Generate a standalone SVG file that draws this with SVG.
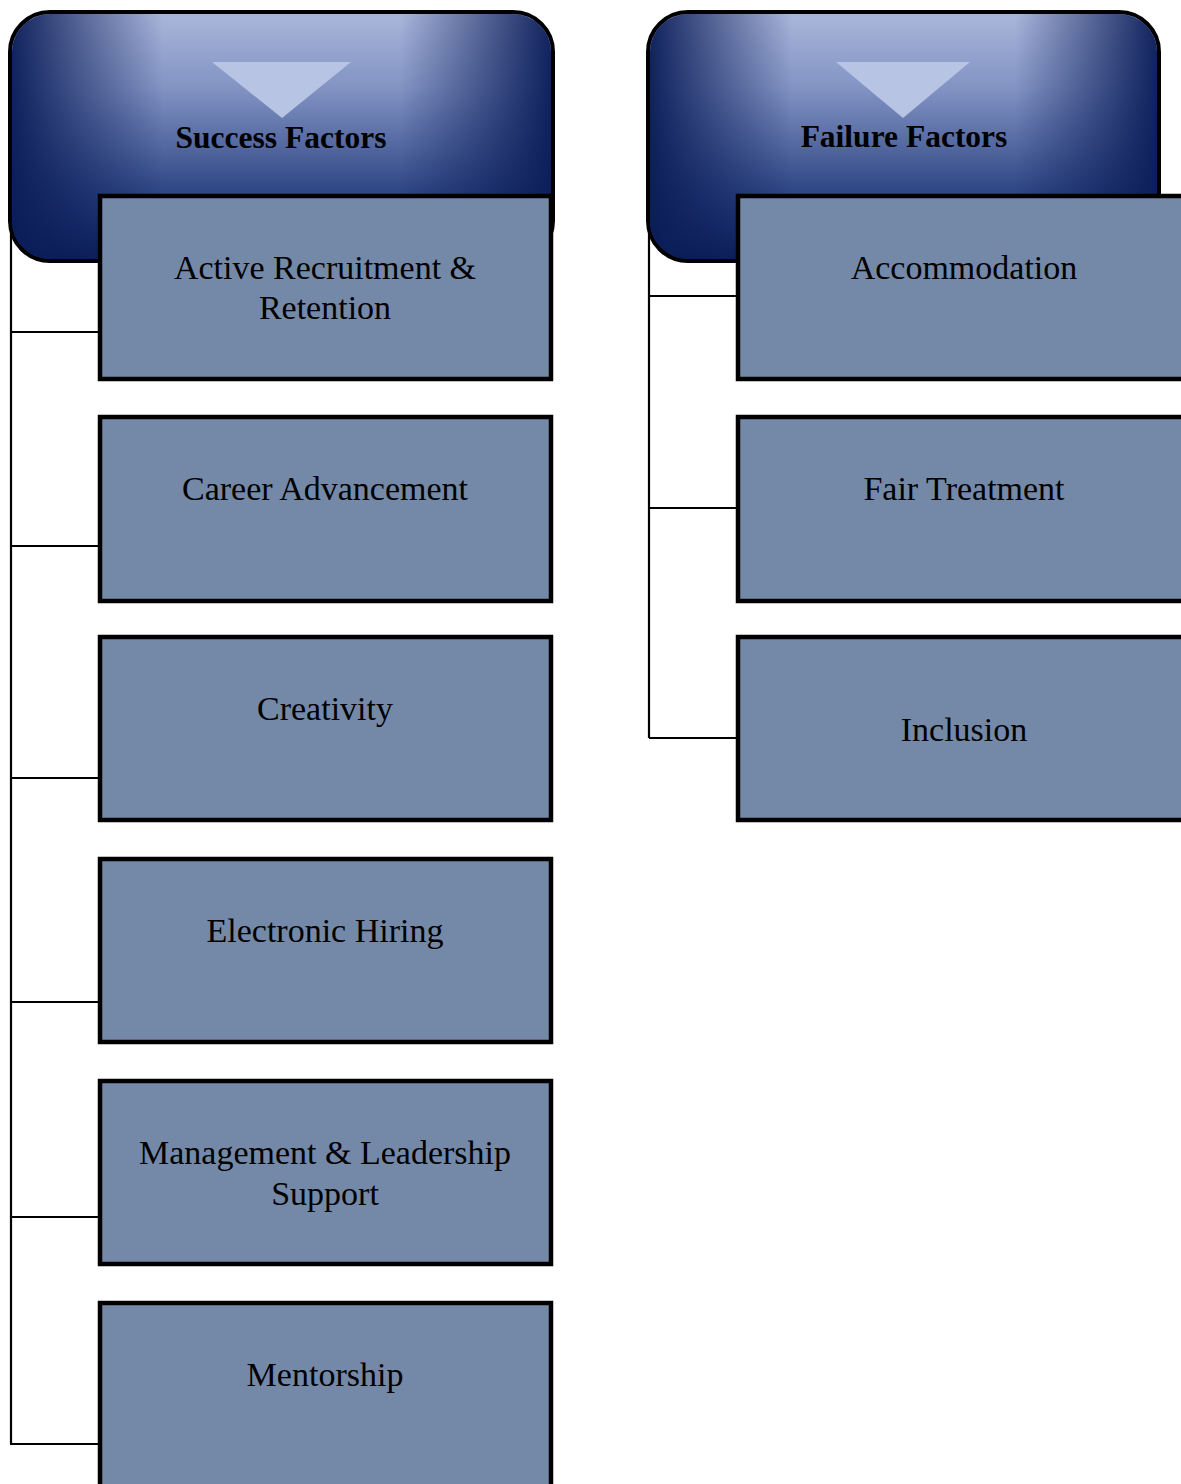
<svg xmlns="http://www.w3.org/2000/svg" width="1181" height="1484" viewBox="0 0 1181 1484">
<defs>
<linearGradient id="gv" x1="0" y1="0" x2="0" y2="1">
<stop offset="0" stop-color="#aab7db"/>
<stop offset="0.3" stop-color="#8394c4"/>
<stop offset="0.7" stop-color="#334a88"/>
<stop offset="1" stop-color="#0b1f5c"/>
</linearGradient>
<linearGradient id="gh" x1="0" y1="0" x2="1" y2="0">
<stop offset="0" stop-color="#0a1c58" stop-opacity="0.95"/>
<stop offset="0.28" stop-color="#0a1c58" stop-opacity="0"/>
<stop offset="0.72" stop-color="#0a1c58" stop-opacity="0"/>
<stop offset="1" stop-color="#0a1c58" stop-opacity="0.95"/>
</linearGradient>
<style>
.hdr{stroke:#000;stroke-width:4}
.box{fill:#7489a8;stroke:#000;stroke-width:4.5}
.tri{fill:#b8c4e3}
.ttl{font-family:"Liberation Serif","Times New Roman",serif;font-weight:bold;font-size:31.5px;fill:#000;text-anchor:middle}
.lbl{font-family:"Liberation Serif","Times New Roman",serif;font-size:34px;fill:#000;text-anchor:middle}
.con{stroke:#000;stroke-width:2.2;fill:none}
</style>
</defs>
<rect width="1181" height="1484" fill="#fff"/>
<g id="connectors">
<path class="con" d="M11 108 V1444 M10 332 H100 M10 546 H100 M10 778 H100 M10 1002 H100 M10 1217 H100 M10 1444 H100"/>
<path class="con" d="M649 108 V738 M649 296 H738 M649 508 H738 M649 738 H738"/>
</g>
<g id="success-factors">
<rect class="hdr" x="10" y="12" width="543" height="249" rx="40" fill="url(#gv)"/>
<rect x="12" y="14" width="539" height="245" rx="38" fill="url(#gh)"/>
<polygon class="tri" points="212,62 351,62 282,118"/>
<text class="ttl" x="281" y="148">Success Factors</text>
</g>
<g id="failure-factors">
<rect class="hdr" x="648" y="12" width="511" height="249" rx="40" fill="url(#gv)"/>
<rect x="650" y="14" width="507" height="245" rx="38" fill="url(#gh)"/>
<polygon class="tri" points="836,62 970,62 903,118"/>
<text class="ttl" x="904" y="147">Failure Factors</text>
</g>
<g id="active-recruitment">
<rect class="box" x="100" y="196" width="451" height="183"/>
<text class="lbl" x="325" y="279">Active Recruitment &amp;</text>
<text class="lbl" x="325" y="319">Retention</text>
</g>
<g id="career-advancement">
<rect class="box" x="100" y="417" width="451" height="184"/>
<text class="lbl" x="325" y="500">Career Advancement</text>
</g>
<g id="creativity">
<rect class="box" x="100" y="637" width="451" height="183"/>
<text class="lbl" x="325" y="720">Creativity</text>
</g>
<g id="electronic-hiring">
<rect class="box" x="100" y="859" width="451" height="183"/>
<text class="lbl" x="325" y="942">Electronic Hiring</text>
</g>
<g id="management-support">
<rect class="box" x="100" y="1081" width="451" height="183"/>
<text class="lbl" x="325" y="1164">Management &amp; Leadership</text>
<text class="lbl" x="325" y="1205">Support</text>
</g>
<g id="mentorship">
<rect class="box" x="100" y="1303" width="451" height="190"/>
<text class="lbl" x="325" y="1386">Mentorship</text>
</g>
<g id="accommodation">
<rect class="box" x="738" y="196" width="460" height="183"/>
<text class="lbl" x="964" y="279">Accommodation</text>
</g>
<g id="fair-treatment">
<rect class="box" x="738" y="417" width="460" height="184"/>
<text class="lbl" x="964" y="500">Fair Treatment</text>
</g>
<g id="inclusion">
<rect class="box" x="738" y="637" width="460" height="183"/>
<text class="lbl" x="964" y="741">Inclusion</text>
</g>
</svg>
